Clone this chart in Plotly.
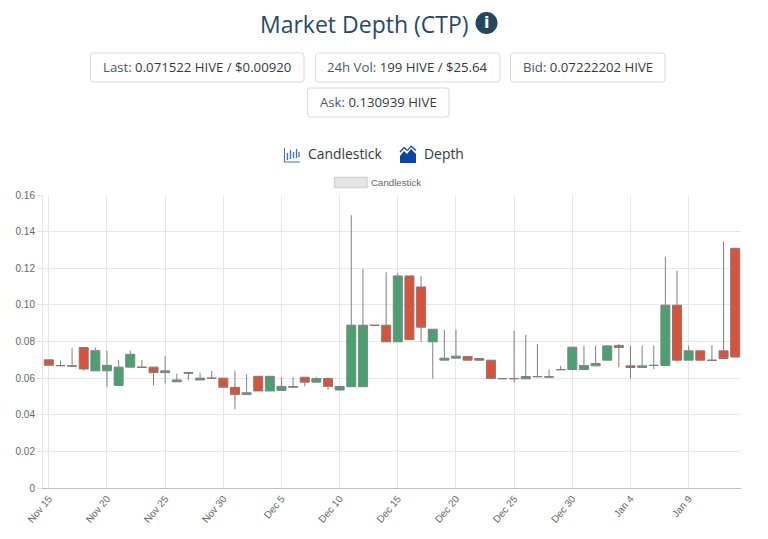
import plotly.graph_objects as go
from datetime import date, timedelta

start = date(2020, 11, 15)
n_days = 60
dates = [start + timedelta(days=i) for i in range(n_days)]
categories = [f"{d.strftime('%b')} {d.day}" for d in dates]

opens = [.0700,.0669,.0667,.0767,.0640,.0640,.0560,.0660,.0660,.0660,.0630,.0580,.0630,.0590,.0600,
         .0600,.0550,.0510,.0610,.0530,.0533,.0553,.0605,.0578,.0598,.0535,.0553,.0553,.0889,.0889,
         .0798,.1158,.1098,.0798,.0698,.0709,.0718,.0707,.0698,.0598,.0598,.0596,.0609,.0607,.0647,
         .0647,.0647,.0667,.0698,.0778,.0667,.0658,.0669,.0669,.0998,.0698,.0749,.0698,.0749,.1309]
closes = [.0670,.0668,.0666,.0650,.0750,.0670,.0660,.0730,.0659,.0630,.0640,.0590,.0627,.0600,.0599,
          .0550,.0510,.0520,.0530,.0610,.0555,.0551,.0578,.0598,.0555,.0555,.0889,.0889,.0888,.0798,
          .1158,.0810,.0878,.0867,.0709,.0720,.0698,.0698,.0598,.0597,.0597,.0609,.0608,.0606,.0646,
          .0769,.0669,.0680,.0776,.0767,.0658,.0667,.0670,.0998,.0698,.0749,.0698,.0697,.0707,.0715]
highs = [.0700,.0696,.0765,.0767,.0767,.0750,.0700,.0750,.0700,.0660,.0720,.0625,.0630,.0630,.0640,
         .0600,.0640,.0620,.0610,.0610,.0604,.0605,.0605,.0605,.0605,.0555,.1490,.1196,.0889,.1178,
         .1173,.1158,.1158,.0867,.0864,.0864,.0718,.0707,.0698,.0598,.0858,.0836,.0787,.0647,.0667,
         .0769,.0778,.0778,.0776,.0787,.0778,.0778,.0778,.1262,.1187,.0778,.0749,.0778,.1347,.1309]
lows = [.0670,.0668,.0666,.0640,.0640,.0550,.0560,.0660,.0659,.0560,.0570,.0580,.0590,.0590,.0599,
        .0550,.0430,.0510,.0530,.0530,.0533,.0551,.0555,.0578,.0536,.0535,.0553,.0553,.0888,.0798,
        .0798,.0810,.0798,.0598,.0698,.0709,.0698,.0698,.0598,.0597,.0576,.0596,.0608,.0606,.0646,
        .0647,.0647,.0667,.0698,.0660,.0598,.0658,.0649,.0669,.0689,.0698,.0698,.0697,.0707,.0715]

y_ticks = [0, .02, .04, .06, .08, .10, .12, .14, .16]
y_labels = ["0", "0.02", "0.04", "0.06", "0.08", "0.10", "0.12", "0.14", "0.16"]

P_L, P_R, P_T, P_B = 43, 741, 195, 488
W, H = 768, 539
def px(x): return (x - P_L) / (P_R - P_L)
def py(y): return (P_B - y) / (P_B - P_T)

UI = "Open Sans"
BTN_LABEL = "#495a68"
BTN_VAL = "#343a40"

shapes, annos = [], []

def text(x, y, s, size, color, font=UI, anchor="center"):
    annos.append(dict(xref="paper", yref="paper", x=px(x), y=py(y), text=s, showarrow=False,
                      xanchor=anchor, yanchor="middle", font=dict(family=font, size=size, color=color)))

def rect(x0, y0, x1, y1, **kw):
    shapes.append(dict(type="rect", xref="paper", yref="paper", x0=px(x0), x1=px(x1),
                       y0=py(y0), y1=py(y1), **kw))

def line(x0, y0, x1, y1, color, width=1):
    shapes.append(dict(type="line", xref="paper", yref="paper", x0=px(x0), x1=px(x1), y0=py(y0), y1=py(y1),
                       line=dict(color=color, width=width)))

def poly(pts, fill):
    d = "M" + " L".join(f"{px(a):.5f},{py(b):.5f}" for a, b in pts) + " Z"
    shapes.append(dict(type="path", xref="paper", yref="paper", path=d, fillcolor=fill, line=dict(width=0)))

text(364, 24, "Market Depth (CTP)", 23, "#2a4a63")
shapes.append(dict(type="circle", xref="paper", yref="paper", x0=px(475.5), x1=px(497.5), y0=py(12), y1=py(34),
                   fillcolor="#24475f", line=dict(width=0)))
text(486.5, 23, "<b>i</b>", 16, "#ffffff", "DejaVu Sans")

buttons = [
    (90.5, 53, 304, 82, "Last:", "0.071522 HIVE / $0.00920"),
    (315.5, 53, 500, 82, "24h Vol:", "199 HIVE / $25.64"),
    (510.5, 53, 665, 82, "Bid:", "0.07222202 HIVE"),
    (307.5, 88, 449, 117, "Ask:", "0.130939 HIVE"),
]
for x0, y0, x1, y1, lab, val in buttons:
    shapes.append(dict(type="path", xref="paper", yref="paper",
        path=(f"M{px(x0+3):.5f},{py(y0):.5f} L{px(x1-3):.5f},{py(y0):.5f} Q{px(x1):.5f},{py(y0):.5f} {px(x1):.5f},{py(y0+3):.5f} "
              f"L{px(x1):.5f},{py(y1-3):.5f} Q{px(x1):.5f},{py(y1):.5f} {px(x1-3):.5f},{py(y1):.5f} "
              f"L{px(x0+3):.5f},{py(y1):.5f} Q{px(x0):.5f},{py(y1):.5f} {px(x0):.5f},{py(y1-3):.5f} "
              f"L{px(x0):.5f},{py(y0+3):.5f} Q{px(x0):.5f},{py(y0):.5f} {px(x0+3):.5f},{py(y0):.5f} Z"),
        fillcolor="#ffffff", line=dict(color="#d5d8db", width=1)))
    text((x0 + x1) / 2, (y0 + y1) / 2 - 0.5,
         f'<span style="color:{BTN_LABEL}">{lab}</span> <span style="color:{BTN_VAL}">{val}</span>', 13.2, BTN_VAL)

# Candlestick / Depth selector
line(284.5, 148, 284.5, 162, "#3f6fb5")
line(284, 162, 300, 162, "#3f6fb5")
for xx, a, b in [(287.5, 153, 160), (290.5, 150, 159), (293.5, 152, 158), (296.5, 149, 158), (299, 152, 157)]:
    line(xx, a, xx, b, "#3f6fb5", 1.3)
text(306, 154, "Candlestick", 13.9, "#343a40", anchor="left")
poly([(400, 156), (404, 151), (407, 154), (411, 149), (416, 154), (416, 163), (400, 163)], "#0b45a8")
line(400, 152, 404, 147.5, "#0b45a8", 1.2)
line(404, 147.5, 407.5, 150.5, "#0b45a8", 1.2)
line(407.5, 150.5, 411, 146, "#0b45a8", 1.2)
line(411, 146, 416, 150.5, "#0b45a8", 1.2)
text(422, 154, "Depth", 13.9, "#343a40", anchor="left")

# Legend
rect(334.5, 177.5, 367, 187.5, fillcolor="#e6e6e6", line=dict(color="#d4d4d4", width=1.5))
text(369, 182, "Candlestick", 9.7, "#666666", "Liberation Sans", "left")

fig = go.Figure(go.Candlestick(
    x=categories, open=opens, high=highs, low=lows, close=closes,
    increasing=dict(line=dict(color="#7b8780", width=1), fillcolor="#4c9f70"),
    decreasing=dict(line=dict(color="#877a76", width=1), fillcolor="#d9523b"),
    whiskerwidth=0, showlegend=False, hoverinfo="skip",
))

fig.update_layout(
    width=W, height=H, autosize=False,
    margin=dict(l=P_L, r=W - P_R, t=P_T, b=H - P_B, pad=0),
    paper_bgcolor="#ffffff", plot_bgcolor="#ffffff",
    showlegend=False, shapes=shapes, annotations=annos,
    boxgap=0.12, boxgroupgap=0.12,
    xaxis=dict(type="category", categoryorder="array", categoryarray=categories,
               rangeslider=dict(visible=False), range=[-0.5, n_days - 0.5],
               tickmode="linear", tick0=0, dtick=5, tickangle=-50,
               showgrid=True, gridcolor="#e6e6e6", gridwidth=1,
               showline=True, linecolor="#bdbdbd", linewidth=1,
               ticks="", tickfont=dict(family="Liberation Sans", size=10, color="#666666")),
    yaxis=dict(range=[0, 0.16], tickmode="array", tickvals=y_ticks, ticktext=y_labels,
               showgrid=True, gridcolor="#e6e6e6", gridwidth=1, zeroline=False,
               showline=True, linecolor="#e6e6e6", linewidth=1,
               ticks="outside", ticklen=5, tickcolor="#e6e6e6",
               tickfont=dict(family="Liberation Sans", size=10, color="#666666")),
)

fig.write_html("out.html", config=dict(displayModeBar=False),
               post_script="document.body.style.margin='0';")
